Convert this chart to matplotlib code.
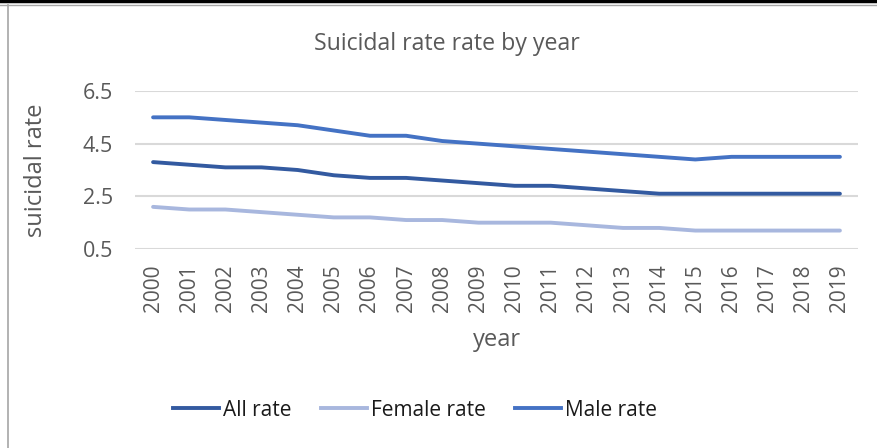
import matplotlib.pyplot as plt
from matplotlib.lines import Line2D

# veriler
years = [str(y) for y in range(2000, 2020)]
all_rate = [3.8, 3.7, 3.6, 3.6, 3.5, 3.3, 3.2, 3.2, 3.1, 3.0, 2.9, 2.9, 2.8, 2.7, 2.6, 2.6, 2.6, 2.6, 2.6, 2.6]
female_rate = [2.1, 2.0, 2.0, 1.9, 1.8, 1.7, 1.7, 1.6, 1.6, 1.5, 1.5, 1.5, 1.4, 1.3, 1.3, 1.2, 1.2, 1.2, 1.2, 1.2]
male_rate = [5.5, 5.5, 5.4, 5.3, 5.2, 5.0, 4.8, 4.8, 4.6, 4.5, 4.4, 4.3, 4.2, 4.1, 4.0, 3.9, 4.0, 4.0, 4.0, 4.0]
y_ticks = [0.5, 2.5, 4.5, 6.5]

renkler = ['#335AA0', '#A8B7DE', '#4472C4']
plt.rcParams['font.family'] = ['Open Sans', 'DejaVu Sans']

fig = plt.figure(figsize=(8.77, 4.48), dpi=100)
ax = fig.add_axes([135 / 877, 1 - 249 / 448, (858 - 135) / 877, (249 - 91) / 448])

x = range(len(years))
ax.plot(x, all_rate, color=renkler[0], lw=2.8, solid_capstyle='round')
ax.plot(x, female_rate, color=renkler[1], lw=2.8, solid_capstyle='round')
ax.plot(x, male_rate, color=renkler[2], lw=2.8, solid_capstyle='round')

ax.set_xlim(-0.5, len(years) - 0.5)
ax.set_ylim(0.5, 6.5)
ax.set_yticks(y_ticks)
ax.set_yticklabels([f'{v:.1f}' for v in y_ticks], fontsize=15.5, color='#595959')
ax.set_xticks(list(x))
ax.set_xticklabels(years, rotation=90, fontsize=15, color='#595959')
ax.tick_params(axis='x', length=0, pad=11)
ax.tick_params(axis='y', length=0, pad=16)
ax.grid(axis='y', color='#D9D9D9', lw=1.5)
ax.set_axisbelow(True)
for s in ax.spines.values():
    s.set_visible(False)

ax.set_ylabel('suicidal rate', fontsize=17, color='#595959')
ax.yaxis.set_label_coords((48 - 135) / 723, 0.5)
fig.text(497 / 877, 1 - 340 / 448, 'year', fontsize=17, color='#595959', ha='center', va='center')
fig.text(447 / 877, 1 - 44 / 448, 'Suicidal rate rate by year', fontsize=16.7, color='#595959',
         ha='center', va='center')

handles = [Line2D([], [], color=c, lw=2.8) for c in renkler]
fig.legend(handles, ['All rate', 'Female rate', 'Male rate'], loc='center',
           bbox_to_anchor=(415 / 877, 1 - 410 / 448), ncol=3, frameon=False,
           fontsize=15, handlelength=2.2, handletextpad=0.2, columnspacing=1.4,
           labelcolor='#1a1a1a')

# kenarliklar
fig.add_artist(Line2D([0, 1], [1 - 1.5 / 448, 1 - 1.5 / 448], color='black', lw=2.5))
fig.add_artist(Line2D([0, 1], [1 - 5 / 448, 1 - 5 / 448], color='#A6A6A6', lw=1))
fig.add_artist(Line2D([7.5 / 877, 7.5 / 877], [0, 1 - 5 / 448], color='#A6A6A6', lw=1.2))

fig.savefig('out.png', dpi=100)
